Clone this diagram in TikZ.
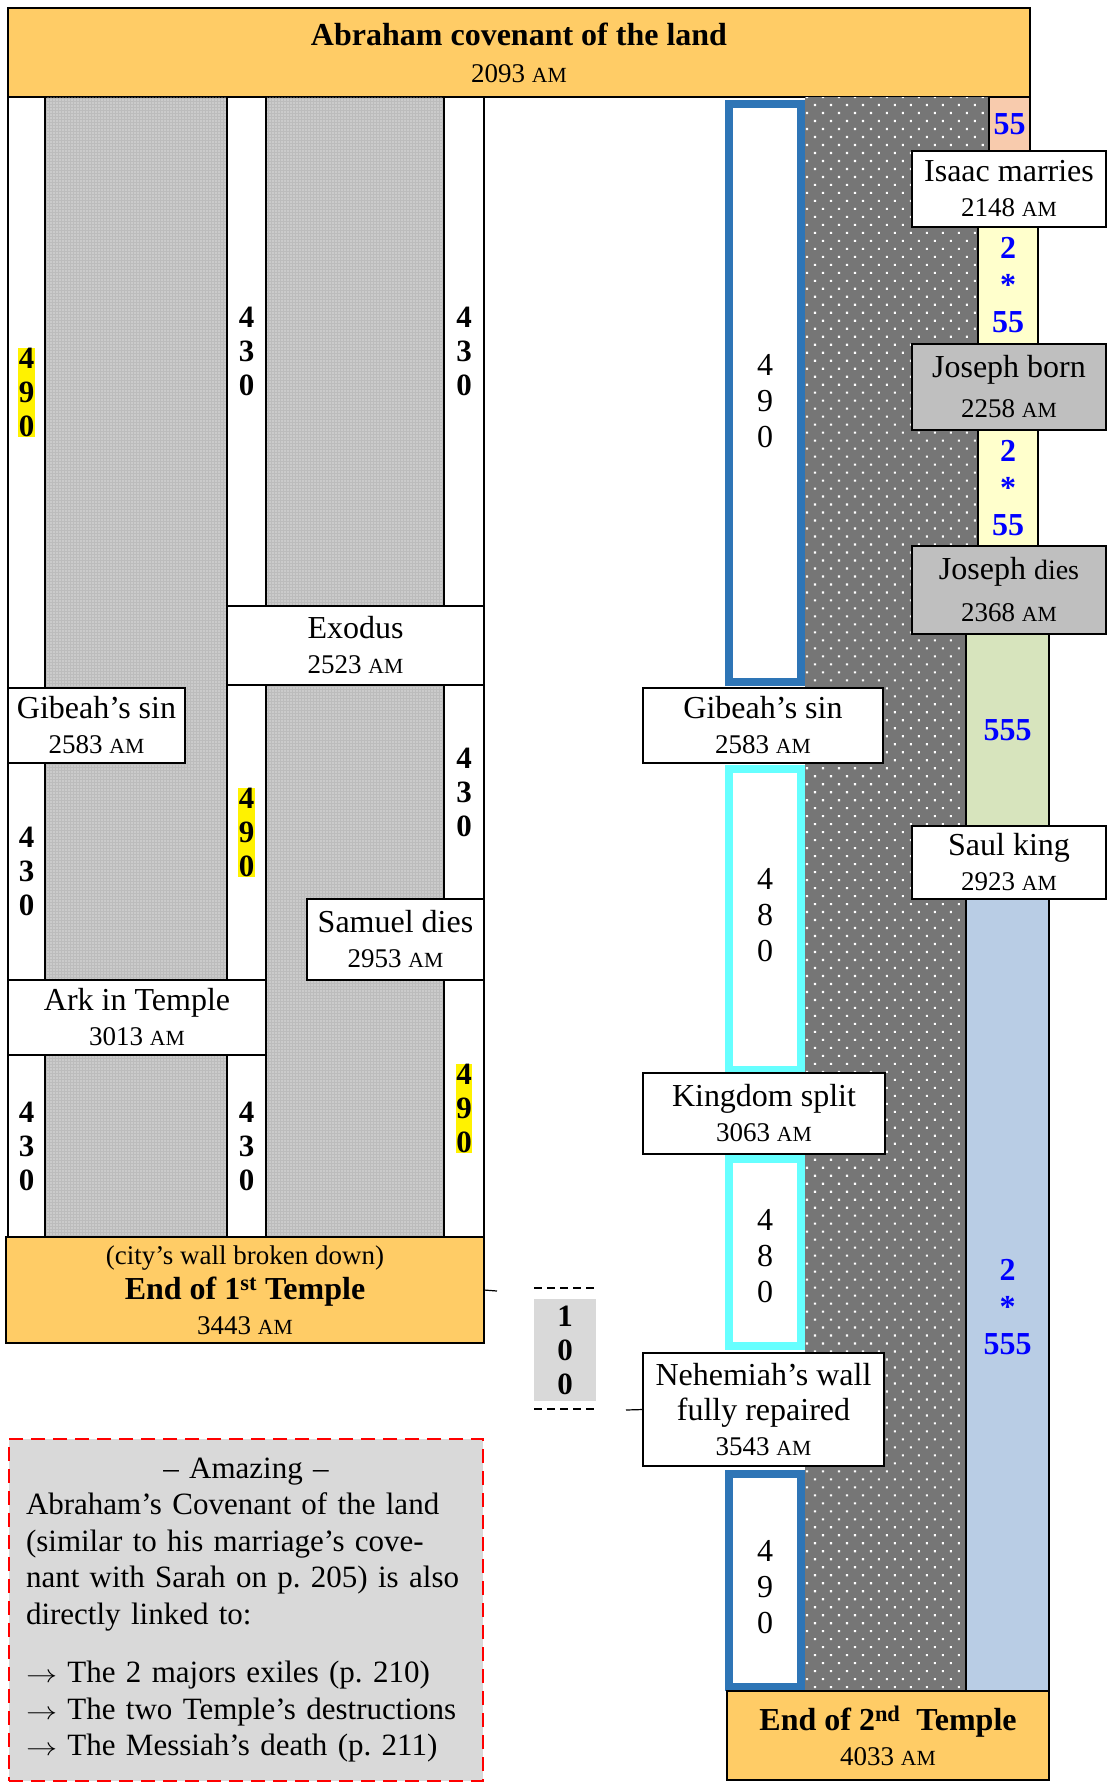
\documentclass[tikz,border=0pt]{standalone}
\usepackage{fontspec}
\setmainfont{Liberation Serif}
\usepackage{tikz}
\usetikzlibrary{patterns.meta}

\definecolor{titleorange}{RGB}{255,204,102}
\definecolor{peach}{RGB}{248,203,173}
\definecolor{paleyellow}{RGB}{255,255,204}
\definecolor{palegreen}{RGB}{215,228,189}
\definecolor{paleblue}{RGB}{185,205,229}
\definecolor{wordblue}{RGB}{46,117,182}
\definecolor{brightcyan}{RGB}{102,255,255}
\definecolor{boxgray}{RGB}{191,191,191}
\definecolor{notegray}{RGB}{217,217,217}
\definecolor{darkdots}{RGB}{118,118,118}
\definecolor{lightdots}{RGB}{188,188,188}

\newcommand\evfont{\fontsize{32}{35}\selectfont}
\newcommand\yrfont{\fontsize{27}{35}\selectfont}
\newcommand\digfont{\bfseries\fontsize{31}{34}\selectfont}
\newcommand\yr[1]{{\yrfont #1 \scalebox{0.8}{AM}}}
\newcommand\toarrow{\scalebox{1.25}[1]{$\rightarrow$}}

\begin{document}
\begin{tikzpicture}[x=1pt, y=-1pt,
    every node/.style={inner sep=0pt, outer sep=0pt},
    ev/.style={draw, fill=white, line width=1.5pt, anchor=north west,
               align=center, font=\evfont},
    endbox/.style={ev, fill=titleorange},
    wcol/.style={draw, fill=white, line width=1.2pt, anchor=north west,
                 align=center, font=\digfont},
    ltcol/.style={draw, line width=1.2pt, fill=lightdots, anchor=north west,
                  postaction={pattern={Dots[distance=3pt, radius=0.7pt]},
                              pattern color=white}},
    dkcol/.style={fill=darkdots, anchor=north west,
                  postaction={pattern={Dots[distance=11.3pt, angle=45, radius=1.5pt]},
                              pattern color=white}},
    ring/.style={draw, fill=white, line width=8pt, anchor=north west},
    ringtxt/.style={align=center, font=\fontsize{32}{36}\selectfont},
    pcol/.style={draw, line width=1.2pt, anchor=north west, align=center,
                 text=blue, font=\bfseries\fontsize{32}{37}\selectfont},
    ptxt/.style={align=center, text=blue, font=\bfseries\fontsize{32}{37}\selectfont},
    hl/.style={fill=yellow, inner sep=0.5pt, align=center, font=\digfont}
  ]
  \useasboundingbox (0,0) rectangle (1107,1783);

  % title
  \node[endbox, minimum width=1022pt, minimum height=89pt] (covenant) at (8,8)
    {{\bfseries Abraham covenant of the land}\\[2pt]\yr{2093}};

  % left block
  \node[ltcol, minimum width=182pt, minimum height=1140pt] (dotA) at (45,97) {};
  \node[ltcol, minimum width=178pt, minimum height=509pt] (dotB) at (266,97) {};
  \node[ltcol, minimum width=178pt, minimum height=552pt] (dotC) at (266,685) {};

  \node[wcol, minimum width=37pt, minimum height=591pt] (colA1) at (8,97) {};
  \node[hl] (hlA1) at (colA1.center) {4\\9\\0};
  \node[wcol, minimum width=37pt, minimum height=217pt] (colA2) at (8,763) {4\\3\\0};
  \node[wcol, minimum width=37pt, minimum height=182pt] (colA3) at (8,1055) {4\\3\\0};
  \node[wcol, minimum width=39pt, minimum height=509pt] (colB1) at (227,97) {4\\3\\0};
  \node[wcol, minimum width=39pt, minimum height=295pt] (colB2) at (227,685) {};
  \node[hl] (hlB2) at (colB2.center) {4\\9\\0};
  \node[wcol, minimum width=39pt, minimum height=182pt] (colB3) at (227,1055) {4\\3\\0};
  \node[wcol, minimum width=40pt, minimum height=509pt] (colC1) at (444,97) {4\\3\\0};
  \node[wcol, minimum width=40pt, minimum height=214pt] (colC2) at (444,685) {4\\3\\0};
  \node[wcol, minimum width=40pt, minimum height=257pt] (colC3) at (444,980) {};
  \node[hl] (hlC3) at (colC3.center) {4\\9\\0};

  \node[ev, minimum width=257pt, minimum height=79pt] (exodus) at (227,606) {Exodus\\\yr{2523}};
  \node[ev, minimum width=177pt, minimum height=75pt] (gibeahL) at (8,688) {Gibeah's sin\\\yr{2583}};
  \node[ev, minimum width=177pt, minimum height=81pt] (samuel) at (307,899) {Samuel dies\\\yr{2953}};
  \node[ev, minimum width=258pt, minimum height=75pt] (ark) at (8,980) {Ark in Temple\\\yr{3013}};
  \node[endbox, minimum width=478pt, minimum height=106pt] (endA) at (6,1237)
    {{\yrfont(city's wall broken down)}\\{\bfseries End of 1\textsuperscript{st} Temple}\\\yr{3443}};

  % right block
  \node[dkcol, minimum width=185pt, minimum height=1594pt] (dark) at (805,97) {};
  \node[ring, draw=wordblue, minimum width=72pt, minimum height=578pt] (ringA) at (729,104) {};
  \node[ring, draw=brightcyan, minimum width=72pt, minimum height=301pt] (ringB) at (729,769) {};
  \node[ring, draw=brightcyan, minimum width=72pt, minimum height=187pt] (ringC) at (729,1159) {};
  \node[ring, draw=wordblue, minimum width=72pt, minimum height=213pt] (ringD) at (729,1474) {};
  \node[ringtxt] (yearsA) at ([yshift=-8pt]ringA.center) {4\\9\\0};
  \node[ringtxt] (yearsB) at ([yshift=4pt]ringB.center) {4\\8\\0};
  \node[ringtxt] (yearsC) at ([yshift=-4pt]ringC.center) {4\\8\\0};
  \node[ringtxt] (yearsD) at ([yshift=-7pt]ringD.center) {4\\9\\0};

  \node[ev, minimum width=240pt, minimum height=75pt] (gibeahR) at (643,688) {Gibeah's sin\\\yr{2583}};
  \node[ev, minimum width=242pt, minimum height=81pt] (split) at (643,1073) {Kingdom split\\\yr{3063}};
  \node[ev, minimum width=241pt, minimum height=113pt] (wall) at (643,1353)
    {Nehemiah's wall\\fully repaired\\\yr{3543}};
  \node[endbox, minimum width=322pt, minimum height=89pt] (endB) at (727,1691)
    {{\bfseries End of 2\textsuperscript{nd}\ \ Temple}\\\yr{4033}};

  \node[pcol, fill=peach, minimum width=41pt, minimum height=55pt] (fifty) at (989,97) {55};
  \node[pcol, fill=paleyellow, minimum width=60pt, minimum height=117pt] (twiceA) at (978,227) {2\\*\\55};
  \node[pcol, fill=paleyellow, minimum width=60pt, minimum height=116pt] (twiceB) at (978,430) {2\\*\\55};
  \node[pcol, fill=palegreen, minimum width=83pt, minimum height=192pt] (fives) at (966,634) {555};
  \node[pcol, fill=paleblue, minimum width=83pt, minimum height=792pt] (twiceC) at (966,899) {};
  \node[ptxt] (twiceCtxt) at ([yshift=-12pt]twiceC.center) {2\\*\\555};

  \node[ev, minimum width=194pt, minimum height=76pt] (isaac) at (912,151) {Isaac marries\\\yr{2148}};
  \node[ev, fill=boxgray, minimum width=194pt, minimum height=86pt] (josephB) at (912,344)
    {Joseph born\\[5pt]\yr{2258}};
  \node[ev, fill=boxgray, minimum width=194pt, minimum height=88pt] (josephD) at (912,546)
    {Joseph {\fontsize{28}{35}\selectfont dies}\\[7pt]\yr{2368}};
  \node[ev, minimum width=194pt, minimum height=73pt] (saul) at (912,826) {Saul king\\\yr{2923}};

  % the 100 years in between
  \node[fill=notegray, anchor=north west, minimum width=62pt, minimum height=102pt,
        align=center, font=\digfont] (hundred) at (534,1299) {1\\0\\0};
  \draw[line width=1.3pt, dash pattern=on 8pt off 5pt]
    ([yshift=11pt]hundred.north west) -- ([yshift=11pt]hundred.north east);
  \draw[line width=1.3pt, dash pattern=on 8pt off 5pt]
    ([yshift=-8pt]hundred.south west) -- ([yshift=-8pt]hundred.south east);
  \coordinate (stubA) at (497,1291);
  \coordinate (stubB) at (626,1410);
  \draw[line width=1.2pt] (endA.east) -- (stubA);
  \draw[line width=1.2pt] (stubB) -- (wall.west);

  % note
  \node[draw=red, line width=1.6pt, dash pattern=on 14pt off 8pt, fill=notegray,
        anchor=north west, minimum width=474pt, minimum height=342pt,
        text width=440pt, align=left,
        font=\fontsize{31}{36.5}\selectfont\frenchspacing] (amazing) at (9,1439)
    {\makebox[440pt]{-- Amazing --}\\
     Abraham's Covenant of the land\\
     (similar to his marriage's cove-\\
     nant with Sarah on p. 205) is also\\
     directly linked to:\\[22pt]
     \toarrow{} The 2 majors exiles (p. 210)\\
     \toarrow{} The two Temple's destructions\\
     \toarrow{} The Messiah's death (p. 211)};
\end{tikzpicture}
\end{document}
